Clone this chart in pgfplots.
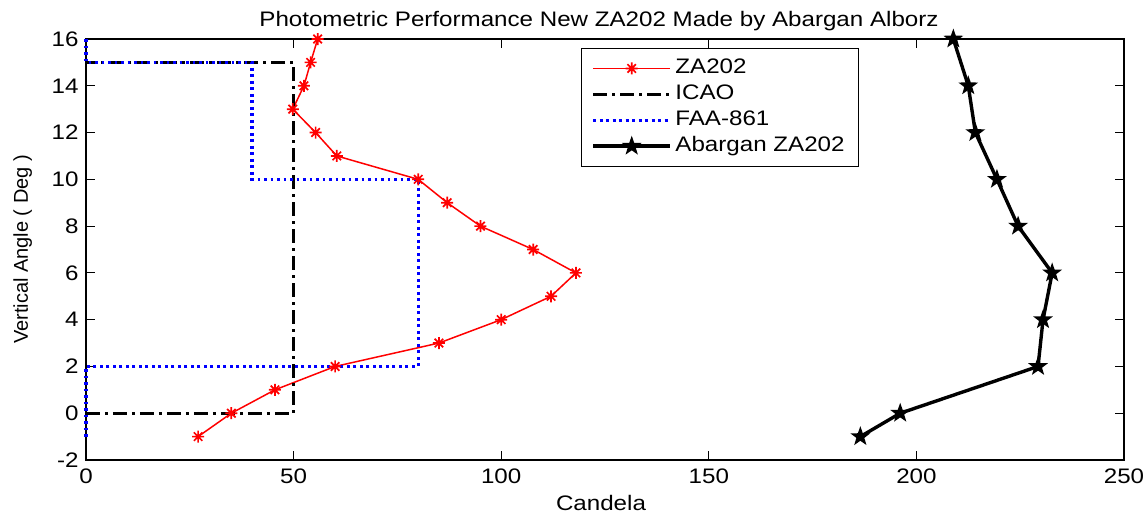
\documentclass[border=0pt]{standalone}
\usepackage{fontspec}
\setmainfont{Liberation Sans}[FakeStretch=1.15]
\newfontfamily\ylabfont{Liberation Sans}
\usepackage{pgfplots}
\pgfplotsset{compat=1.18}

\pgfdeclareplotmark{mast}{%
 \pgfpathmoveto{\pgfqpoint{-\pgfplotmarksize}{0pt}}\pgfpathlineto{\pgfqpoint{\pgfplotmarksize}{0pt}}%
 \pgfpathmoveto{\pgfqpoint{0pt}{-\pgfplotmarksize}}\pgfpathlineto{\pgfqpoint{0pt}{\pgfplotmarksize}}%
 \pgfpathmoveto{\pgfqpoint{-0.707\pgfplotmarksize}{-0.707\pgfplotmarksize}}\pgfpathlineto{\pgfqpoint{0.707\pgfplotmarksize}{0.707\pgfplotmarksize}}%
 \pgfpathmoveto{\pgfqpoint{-0.707\pgfplotmarksize}{0.707\pgfplotmarksize}}\pgfpathlineto{\pgfqpoint{0.707\pgfplotmarksize}{-0.707\pgfplotmarksize}}%
 \pgfusepathqstroke}

\pgfdeclareplotmark{pentagram}{%
 \pgfpathmoveto{\pgfpointpolar{90}{\pgfplotmarksize}}%
 \pgfpathlineto{\pgfpointpolar{126}{0.4\pgfplotmarksize}}%
 \pgfpathlineto{\pgfpointpolar{162}{\pgfplotmarksize}}%
 \pgfpathlineto{\pgfpointpolar{198}{0.4\pgfplotmarksize}}%
 \pgfpathlineto{\pgfpointpolar{234}{\pgfplotmarksize}}%
 \pgfpathlineto{\pgfpointpolar{270}{0.4\pgfplotmarksize}}%
 \pgfpathlineto{\pgfpointpolar{306}{\pgfplotmarksize}}%
 \pgfpathlineto{\pgfpointpolar{342}{0.4\pgfplotmarksize}}%
 \pgfpathlineto{\pgfpointpolar{18}{\pgfplotmarksize}}%
 \pgfpathlineto{\pgfpointpolar{54}{0.4\pgfplotmarksize}}%
 \pgfpathclose\pgfusepathqfillstroke}

\pgfplotstableread{
x y
27 -1
35 0
45.5 1
60 2
85 3
100 4
112 5
118 6
107.7 7
95 8
87 9
80 10
60.4 11
55.3 12
49.8 13
52.5 14
54.1 15
55.8 16
}\zatable

\pgfplotstableread{
x y
0 0
50 0
50 15
0 15
}\icaotable

\pgfplotstableread{
x y
0 16
0 15
40 15
40 10
80 10
80 2
0 2
0 -1
}\faatable

\pgfplotstableread{
x y
186.5 -1
196.1 0
229.3 2
230.5 4
232.7 6
224.5 8
219.4 10
214.2 12
212.5 14
208.9 16
}\abtable

\begin{document}
\fontsize{10.5}{12.6}\selectfont
\begin{tikzpicture}
\useasboundingbox (-43pt,-27.5pt) rectangle (531pt,230pt);
\begin{axis}[
  at={(0,0)}, anchor=south west,
  scale only axis,
  width=519pt, height=210.5pt,
  xmin=0, xmax=250, ymin=-2, ymax=16,
  xtick={0,50,...,250}, ytick={-2,0,...,16},
  tick align=inside,
  major tick length=4.5pt,
  axis line style={line width=0.6pt},
  every tick/.style={black, line width=0.6pt},
  clip=false,
  /pgf/number format/assume math mode=true,
  ticklabel style={font=\fontsize{10.5}{12.6}\selectfont},
  xticklabel style={yshift=-0.5pt},
  title={Photometric Performance New ZA202 Made by Abargan Alborz},
  title style={at={(axis description cs:0.5,1)}, anchor=base, yshift=0.5pt, xshift=-3pt},
  xlabel={Candela},
  xlabel style={at={(axis description cs:0.5,0)}, anchor=base, yshift=-25pt, xshift=-2pt},
  ylabel={\ylabfont\fontsize{10}{12}\selectfont Vertical Angle ( Deg )},
  ylabel style={at={(axis description cs:-0.0559,0.5)}, anchor=base},
  legend cell align=left,
  legend style={
    at={(axis description cs:0.4769,0.9786)}, anchor=north west,
    draw=black, line width=0.5pt,
    inner xsep=5pt, inner ysep=3.5pt,
    nodes={inner sep=1.75pt, text height=0.7em, text depth=0.2em},
    row sep=0pt,
  },
  legend image code/.code={%
    \draw[mark repeat=2,mark phase=2,#1] plot coordinates {(0pt,0pt) (19.25pt,0pt) (38.5pt,0pt)};},
]
\addplot[red, line width=0.75pt, mark=mast, mark size=3pt, mark options={solid, line width=0.85pt}] table[x=x,y=y] {\zatable};
\addplot[black, line width=1.5pt, dash pattern=on 7pt off 2.5pt on 1.5pt off 2.5pt] table[x=x,y=y] {\icaotable};
\addplot[blue, line width=1.6pt, dash pattern=on 1.4pt off 1.85pt] table[x=x,y=y] {\faatable};
\addplot[black, line width=1.7pt, mark=pentagram, mark size=4pt, mark options={solid, fill=black, line width=0.8pt}] table[x=x,y=y] {\abtable};
\legend{ZA202,ICAO,FAA-861,Abargan ZA202}
\end{axis}
\end{tikzpicture}
\end{document}
